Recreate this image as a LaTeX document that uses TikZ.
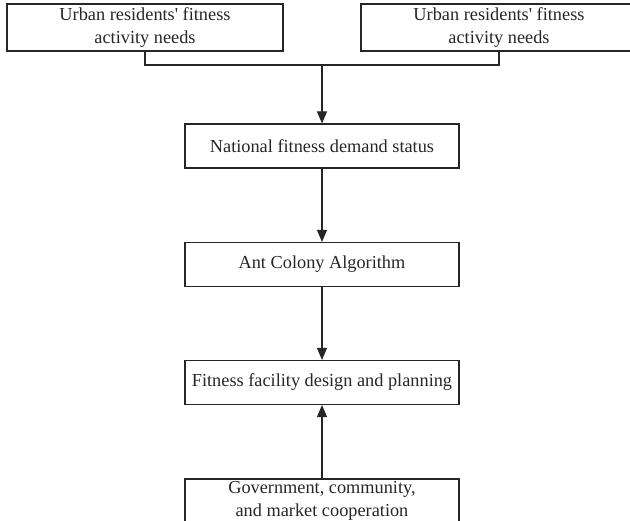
\documentclass[tikz,border=0pt]{standalone}
\usepackage{fontspec}
\setmainfont{Liberation Serif}
\usetikzlibrary{arrows.meta}
\begin{document}
\begin{tikzpicture}[x=1pt,y=1pt,
  line/.style={draw=black!85, line width=1.1pt},
  arr/.style={line, -{Triangle[length=12pt,width=10pt]}},
  stepbox/.style={line, rectangle, inner sep=0pt, align=center,
    minimum width=274pt, minimum height=44pt,
    font=\fontsize{18.3}{23}\selectfont, text=black!85},
  topbox/.style={stepbox, minimum width=276pt, minimum height=47pt}]
\useasboundingbox (0,0) rectangle (630,-521);
\node[topbox] (tl) at (145,-27.5) {Urban residents\textquotesingle{} fitness\\activity needs};
\node[topbox] (tr) at (499,-27.5) {Urban residents\textquotesingle{} fitness\\activity needs};
\node[stepbox] (b2) at (322,-146) {National fitness demand status};
\node[stepbox] (b3) at (322,-264.5) {Ant Colony Algorithm};
\node[stepbox] (b4) at (322,-382.5) {Fitness facility design and planning};
\node[stepbox] (b5) at (322,-501) {Government, community,\\and market cooperation};
\coordinate (j) at (322,-65);
\draw[line] (tl.south) |- (j) -| (tr.south);
\draw[arr] (j) -- (b2.north);
\draw[arr] (b2.south) -- (b3.north);
\draw[arr] (b3.south) -- (b4.north);
\draw[arr] (b5.north) -- (b4.south);
\end{tikzpicture}
\end{document}
